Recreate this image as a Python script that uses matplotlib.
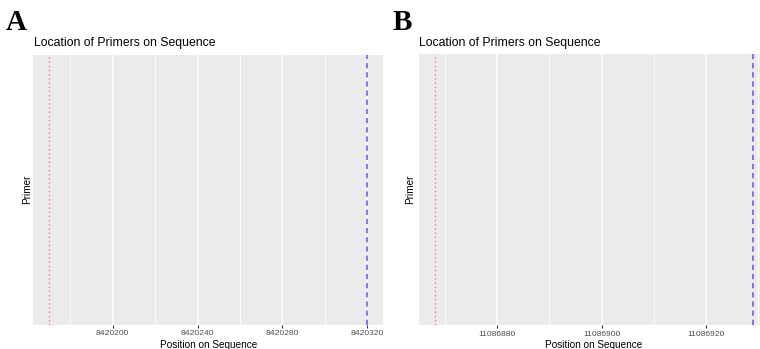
import matplotlib
matplotlib.use("Agg")
import matplotlib.pyplot as plt
from matplotlib.ticker import MultipleLocator

# Data
panels = ["A", "B"]
forward_pos = [8420170, 11086868]
reverse_pos = [8420320, 11086929]
major_ticks = [[8420200, 8420240, 8420280, 8420320],
               [11086880, 11086900, 11086920]]
minor_step = [20, 10]
title = "Location of Primers on Sequence"
xlabel = "Position on Sequence"
ylabel = "Primer"

W, H = 760, 349
fig = plt.figure(figsize=(W / 100, H / 100), dpi=100)
fig.patch.set_facecolor("white")

# axes boxes in pixels: left, right, top, bottom
boxes = [(33.3, 383.0, 55.0, 324.5), (418.9, 768.5, 53.5, 325.0)]
ylab_x = [27, 410]
letter_x = [6, 393]

for i in range(2):
    l, r, t, b = boxes[i]
    ax = fig.add_axes([l / W, (H - b) / H, (r - l) / W, (b - t) / H])
    ax.set_facecolor("#EBEBEB")
    for s in ax.spines.values():
        s.set_visible(False)
    lo, hi = forward_pos[i], reverse_pos[i]
    ext = (hi - lo) * 0.05
    ax.set_xlim(lo - ext, hi + ext)
    ax.set_ylim(0, 1)
    ax.set_xticks(major_ticks[i])
    ax.set_xticklabels([str(v) for v in major_ticks[i]])
    ax.xaxis.set_minor_locator(MultipleLocator(minor_step[i]))
    ax.set_yticks([])
    ax.grid(which="major", axis="x", color="white", lw=1.1)
    ax.grid(which="minor", axis="x", color="white", lw=0.55)
    ax.tick_params(axis="x", which="major", length=2.5, width=0.8, color="#333333",
                   labelsize=6.1, labelcolor="#4D4D4D", pad=1.8)
    ax.tick_params(axis="x", which="minor", length=0)
    for lab in ax.get_xticklabels():
        lab.set_fontfamily("Liberation Sans")
    ax.set_axisbelow(True)
    ax.axvline(forward_pos[i], color="#F0606C", lw=1.0, ls=(0, (1, 2)), alpha=0.8)
    ax.axvline(reverse_pos[i], color="#3B3BF0", lw=1.1, ls=(0, (3.5, 2.5)), alpha=0.85)
    ax.set_xlabel(xlabel, fontsize=7.2, fontfamily="Liberation Sans", labelpad=1.5,
                  color="black")
    # title
    fig.text((l + 0.5) / W, (H - 43) / H, title, fontsize=8.8,
             fontfamily="Liberation Sans", ha="left", va="center")
    # y label
    fig.text(ylab_x[i] / W, (H - (t + b) / 2) / H, ylabel, fontsize=7.2,
             fontfamily="Liberation Sans", rotation=90, ha="center", va="center")
    # panel letter
    fig.text(letter_x[i] / W, (H - 22) / H, panels[i], fontsize=21,
             fontfamily="Liberation Serif", fontweight="bold", ha="left", va="center")

fig.savefig("out.png", dpi=100)
